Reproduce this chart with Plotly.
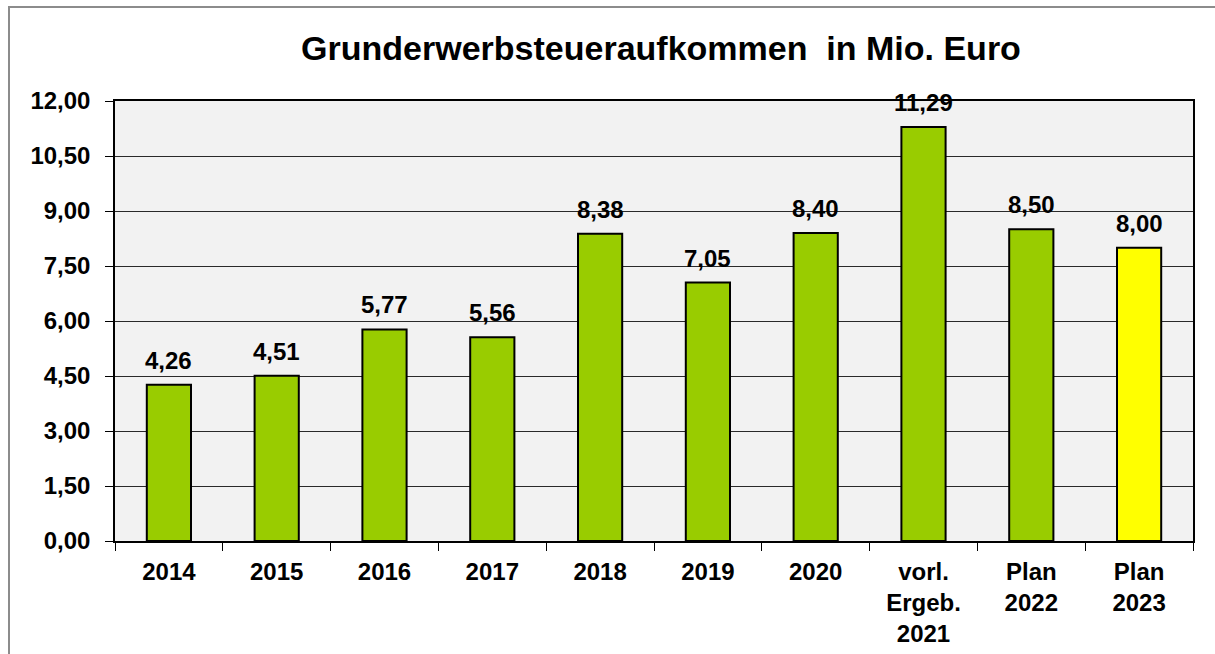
import plotly.graph_objects as go

categories = ["2014", "2015", "2016", "2017", "2018", "2019", "2020",
              "vorl.<br>Ergeb.<br>2021", "Plan<br>2022", "Plan<br>2023"]
values = [4.26, 4.51, 5.77, 5.56, 8.38, 7.05, 8.40, 11.29, 8.50, 8.00]
value_labels = ["4,26", "4,51", "5,77", "5,56", "8,38", "7,05", "8,40", "11,29", "8,50", "8,00"]
bar_colors = ["#99CC00"] * 9 + ["#FFFF00"]
y_ticks = [0, 1.5, 3, 4.5, 6, 7.5, 9, 10.5, 12]

FONT = "Liberation Sans, Arial, sans-serif"

fig = go.Figure()
fig.add_trace(go.Bar(
    x=categories, y=values,
    marker=dict(color=bar_colors, line=dict(color="#000000", width=2)),
    width=0.41,
    hoverinfo="skip",
))

# category axis: annotation x given as category index
for i, (v, t) in enumerate(zip(values, value_labels)):
    fig.add_annotation(x=i, y=v, text=t, showarrow=False, yanchor="bottom",
                       yshift=9, font=dict(family=FONT, size=24, color="#000000", weight="bold"))

# outer frame
L, R, T, B = 115, 1193, 101, 541
W, H = R - L, B - T
fig.add_shape(type="rect", xref="paper", yref="paper",
              x0=(9 - L) / W, x1=(1230 - L) / W,
              y0=(B - 670) / H, y1=(B - 7) / H,
              line=dict(color="#8c8c8c", width=2), fillcolor="rgba(0,0,0,0)", layer="below")

fig.update_layout(
    width=1215, height=654,
    margin=dict(l=L, r=1215 - R, t=T, b=654 - B, autoexpand=False),
    paper_bgcolor="#ffffff",
    plot_bgcolor="#F2F2F2",
    separators=",.",
    showlegend=False,
    title=dict(text="Grunderwerbsteueraufkommen  in Mio. Euro",
               x=661 / 1215, xanchor="center", xref="container",
               y=1 - 48 / 654, yanchor="middle", yref="container",
               font=dict(family=FONT, size=34, color="#000000", weight="bold")),
    font=dict(family=FONT, color="#000000"),
)
fig.update_xaxes(
    type="category", automargin=False, tickangle=0, range=[-0.5, len(categories) - 0.5],
    showline=True, linecolor="#000000", linewidth=1.5, mirror=True,
    ticks="outside", ticklen=8, tickcolor="#000000", tickson="boundaries",
    ticklabelstandoff=8,
    tickfont=dict(family=FONT, size=24, color="#000000", weight="bold"),
    showgrid=False,
)
fig.update_yaxes(
    range=[0, 12], tickvals=y_ticks, tickformat=".2f", automargin=False,
    showline=True, linecolor="#000000", linewidth=1.5, mirror=True,
    ticks="outside", ticklen=8, tickcolor="#000000",
    showgrid=True, gridcolor="#2a2a2a", gridwidth=1,
    zeroline=False, ticklabelstandoff=10,
    tickfont=dict(family=FONT, size=24, color="#000000", weight="bold"),
)

fig.write_html("out.html", config={"displayModeBar": False},
               post_script="document.body.style.margin='0';document.body.style.overflow='hidden';")
